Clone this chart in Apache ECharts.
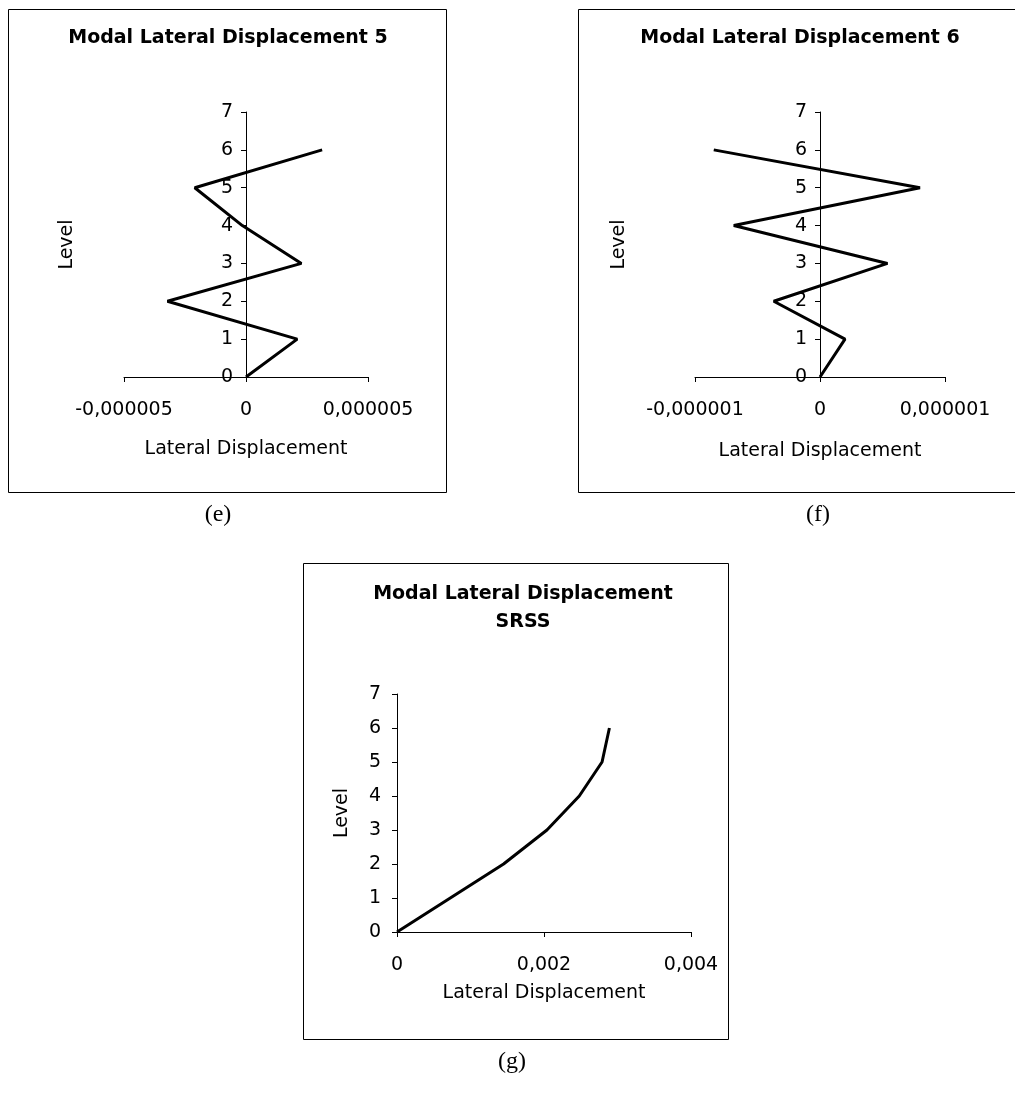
<!DOCTYPE html>
<html>
<head>
<meta charset="utf-8">
<script src="https://cdn.jsdelivr.net/npm/echarts@6/dist/echarts.min.js"></script>
<style>
html,body{margin:0;padding:0;background:#fff;}
#chart{width:1015px;height:1094px;}
</style>
</head>
<body>
<div id="chart"></div>
<script>
// ---- data ----
const levels = [0, 1, 2, 3, 4, 5, 6];
const disp5 = [0, 2.1e-6, -3.22e-6, 2.27e-6, -0.15e-6, -2.1e-6, 3.12e-6];
const disp6 = [0, 0.2e-6, -0.37e-6, 0.54e-6, -0.69e-6, 0.80e-6, -0.85e-6];
const dispSRSS = [0, 0.000725, 0.00145, 0.00204, 0.00248, 0.00279, 0.00289];
const xTicks5 = ['-0,000005', '0', '0,000005'];
const xTicks6 = ['-0,000001', '0', '0,000001'];
const xTicksSRSS = ['0', '0,002', '0,004'];
const yTicks = ['0', '1', '2', '3', '4', '5', '6', '7'];
const titles = ['Modal Lateral Displacement 5', 'Modal Lateral Displacement 6', 'Modal Lateral Displacement\nSRSS'];
const xName = 'Lateral Displacement';
const yName = 'Level';
const panelLabels = ['(e)', '(f)', '(g)'];

const FONT = 'DejaVu Sans';
const pairs = (xs) => xs.map((x, i) => [x, levels[i]]);

function xAxis(idx, min, max, interval, ticks, nameGap) {
  return {
    type: 'value', gridIndex: idx, min: min, max: max, interval: interval,
    name: xName, nameLocation: 'middle', nameGap: nameGap,
    nameTextStyle: {fontFamily: FONT, fontSize: 19, color: '#000'},
    axisLine: {show: true, onZero: false, lineStyle: {color: '#000', width: 1}},
    axisTick: {show: true, inside: false, length: 5, lineStyle: {color: '#000'}},
    axisLabel: {margin: 24, fontFamily: FONT, fontSize: 19, color: '#000',
      formatter: (v, i) => ticks[i]},
    splitLine: {show: false}
  };
}
function yAxis(idx, offset, nameGap, margin) {
  return {
    type: 'value', gridIndex: idx, min: 0, max: 7, interval: 1, position: 'left', offset: offset,
    name: yName, nameLocation: 'middle', nameGap: nameGap, nameRotate: 90,
    nameTextStyle: {fontFamily: FONT, fontSize: 19, color: '#000'},
    axisLine: {show: true, onZero: false, lineStyle: {color: '#000', width: 1}},
    axisTick: {show: true, inside: false, length: 5, lineStyle: {color: '#000'}},
    axisLabel: {margin: margin, fontFamily: FONT, fontSize: 19, color: '#000',
      formatter: (v, i) => yTicks[i]},
    splitLine: {show: false}
  };
}
function line(idx, xs) {
  return {
    type: 'line', xAxisIndex: idx, yAxisIndex: idx, data: pairs(xs),
    showSymbol: false, symbol: 'none', silent: true,
    lineStyle: {color: '#000', width: 3}
  };
}
function box(x, y, w, h) {
  return {type: 'rect', shape: {x: x, y: y, width: w, height: h},
    style: {fill: 'none', stroke: '#000', lineWidth: 1}, silent: true};
}
function label(x, y, t) {
  return {type: 'text', x: x, y: y,
    style: {text: t, font: '24px "Liberation Serif"', fill: '#000', align: 'center', verticalAlign: 'middle'}};
}

const chart = echarts.init(document.getElementById('chart'), null, {renderer: 'canvas'});
chart.setOption({
  backgroundColor: '#fff',
  animation: false,
  title: [
    {text: titles[0], left: 228, top: 29, textAlign: 'center', padding: 0,
      textStyle: {fontFamily: FONT, fontSize: 19, fontWeight: 'bold', color: '#000'}},
    {text: titles[1], left: 800, top: 29, textAlign: 'center', padding: 0,
      textStyle: {fontFamily: FONT, fontSize: 19, fontWeight: 'bold', color: '#000'}},
    {text: titles[2], left: 523, top: 580, textAlign: 'center', padding: 0,
      textStyle: {fontFamily: FONT, fontSize: 19, fontWeight: 'bold', color: '#000', lineHeight: 28}}
  ],
  grid: [
    {left: 124, top: 112, width: 244, height: 265, containLabel: false, outerBoundsMode: 'none'},
    {left: 695, top: 112, width: 250, height: 265, containLabel: false, outerBoundsMode: 'none'},
    {left: 397, top: 694, width: 294, height: 238, containLabel: false, outerBoundsMode: 'none'}
  ],
  xAxis: [
    xAxis(0, -5e-6, 5e-6, 5e-6, xTicks5, 63),
    xAxis(1, -1e-6, 1e-6, 1e-6, xTicks6, 65),
    xAxis(2, 0, 0.004, 0.002, xTicksSRSS, 52)
  ],
  yAxis: [
    yAxis(0, -122, 169, 13),
    yAxis(1, -125, 191, 13),
    yAxis(2, 0, 45, 16)
  ],
  series: [line(0, disp5), line(1, disp6), line(2, dispSRSS)],
  graphic: [
    box(8.5, 9.5, 438, 483),
    box(578.5, 9.5, 440, 483),
    box(303.5, 563.5, 425, 476),
    label(218, 515, panelLabels[0]),
    label(818, 515, panelLabels[1]),
    label(512, 1062, panelLabels[2])
  ]
});
</script>
</body>
</html>
